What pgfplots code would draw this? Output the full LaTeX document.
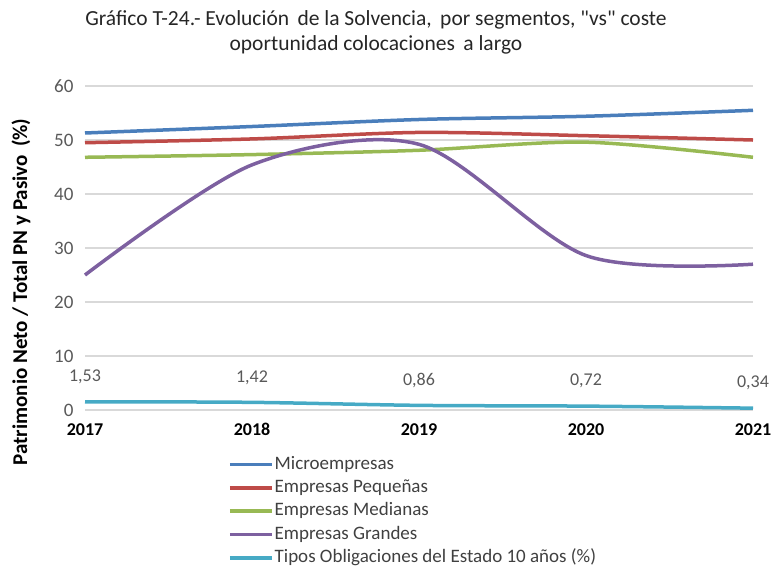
\documentclass[border=0pt]{standalone}
\usepackage{pgfplots}
\pgfplotsset{compat=1.18}
\usepackage{fontspec}
\setmainfont{Carlito}
\newfontfamily\nomap{Carlito}
\definecolor{cBlue}{HTML}{4A7EBB}
\definecolor{cRed}{HTML}{BE4B48}
\definecolor{cGreen}{HTML}{98B954}
\definecolor{cPurple}{HTML}{7D60A0}
\definecolor{cCyan}{HTML}{46AAC5}
\definecolor{cGrid}{HTML}{D9D9D9}
\definecolor{cText}{HTML}{595959}
\definecolor{cLeg}{HTML}{404040}
\begin{document}
\begin{tikzpicture}
\path[use as bounding box] (0,0) rectangle (773pt,-566pt);
\node[align=center,font=\fontsize{21.5}{25}\selectfont,text=black!85,anchor=center] at (376pt,-32pt) {Gráfico T-24.- Evolución\, de la Solvencia,\, por segmentos, {\nomap"}vs{\nomap"} coste\\oportunidad colocaciones\, a largo};
\node[rotate=90,font=\bfseries\fontsize{21}{24}\selectfont] at (21pt,-292pt) {Patrimonio Neto / Total PN y Pasivo\, (\%)};
\begin{axis}[
  at={(85pt,-410pt)}, anchor=origin,
  scale only axis, width=668pt, height=324pt,
  xmin=2017, xmax=2021, ymin=0, ymax=60,
  axis line style={draw=none},
  ymajorgrids, grid style={cGrid, line width=1.2pt},
  xtick={2017,2018,2019,2020,2021},
  xticklabels={2017,2018,2019,2020,2021},
  ytick={0,10,20,30,40,50,60},
  yticklabels={0,10,20,30,40,50,60},
  major tick length=0pt,
  x tick label style={font=\bfseries\fontsize{18}{20}\selectfont, black, yshift=-10pt},
  y tick label style={font=\fontsize{19}{21}\selectfont, cText, xshift=-8pt},
  legend style={at={(0.214,-0.137)}, anchor=north west, draw=none, fill=none,
    font=\fontsize{19}{21}\selectfont, text=cLeg, row sep=3.3pt, inner sep=0pt,
    nodes={inner sep=1pt, text height=13.5pt, text depth=4.5pt},
    legend cell align=left},
  legend image code/.code={\draw[#1, line width=3.5pt] (0pt,0pt) -- (42pt,0pt);},
  every axis plot/.append style={line width=3.5pt, smooth, no markers},
  clip=false,
]
\addplot[cBlue] coordinates {(2017,51.3) (2018,52.5) (2019,53.8) (2020,54.4) (2021,55.5)};
\addlegendentry{Microempresas}
\addplot[cRed] coordinates {(2017,49.5) (2018,50.2) (2019,51.4) (2020,50.8) (2021,50.0)};
\addlegendentry{Empresas Pequeñas}
\addplot[cGreen] coordinates {(2017,46.8) (2018,47.3) (2019,48.1) (2020,49.6) (2021,46.8)};
\addlegendentry{Empresas Medianas}
\addplot[cPurple] coordinates {(2017,25.0) (2018,45.4) (2019,49.2) (2020,28.6) (2021,27.0)};
\addlegendentry{Empresas Grandes}
\addplot[cCyan, nodes near coords, point meta=explicit,
  nodes near coords style={font=\fontsize{18}{20}\selectfont, cText, anchor=center, yshift=25pt,
  /pgf/number format/.cd, fixed, fixed zerofill, precision=2, use comma, assume math mode=true}]
  coordinates {(2017,1.53) [1.53] (2018,1.42) [1.42] (2019,0.86) [0.86] (2020,0.72) [0.72] (2021,0.34) [0.34]};
\addlegendentry{Tipos Obligaciones del Estado 10 años (\%)}
\end{axis}
\end{tikzpicture}
\end{document}
